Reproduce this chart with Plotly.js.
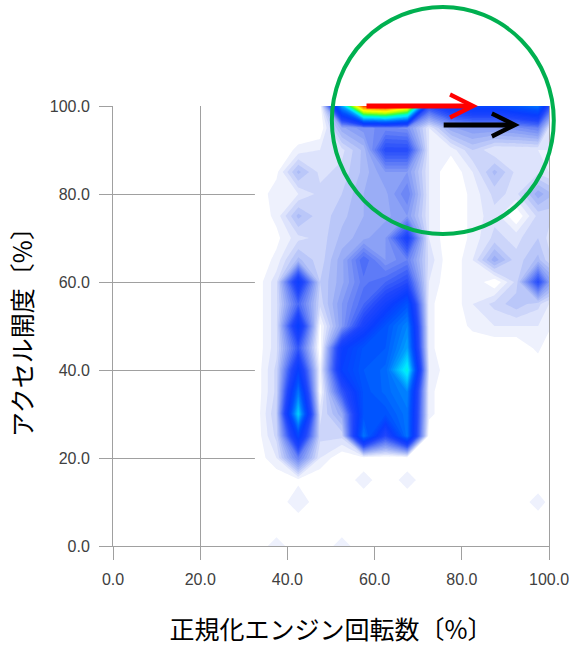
<!DOCTYPE html>
<html>
<head>
<meta charset="utf-8">
<script src="https://cdn.plot.ly/plotly-3.0.1.min.js"></script>
<style>html,body{margin:0;padding:0;background:#ffffff;}</style>
</head>
<body>
<div id="chart" style="width:569px;height:650px;"></div>
<script>
// Normalized engine speed grid (%), columns of the contour grid
const engineSpeed = [32.5, 37.5, 42.5, 47.5, 52.5, 57.5, 62.5, 67.5, 72.5, 77.5, 82.5, 87.5, 92.5, 97.5, 100];
// Accelerator opening grid (%), rows of the contour grid
const accelOpening = [0, 5, 10, 15, 20, 25, 30, 35, 40, 45, 50, 55, 60, 65, 70, 75, 80, 85, 90, 95, 100];
// Relative frequency (0..1), one row per accelOpening value
const row0   = [0, 0.025, 0, 0, 0.025, 0, 0, 0, 0, 0, 0, 0, 0, 0, 0];
const row5   = [0, 0, 0, 0, 0, 0, 0, 0, 0, 0, 0, 0, 0, 0, 0];
const row10  = [0, 0, 0.03, 0, 0, 0, 0, 0, 0, 0, 0, 0, 0, 0.025, 0.01];
const row15  = [0, 0, 0.01, 0, 0, 0.025, 0, 0.025, 0, 0, 0, 0, 0, 0, 0];
const row20  = [0, 0.03, 0.15, 0.03, 0, 0, 0, 0, 0, 0, 0, 0, 0, 0, 0];
const row25  = [0, 0.05, 0.32, 0.05, 0.05, 0.4, 0.22, 0.4, 0, 0, 0, 0, 0, 0, 0];
const row30  = [0, 0.06, 0.5, 0.04, 0.1, 0.35, 0.35, 0.4, 0.02, 0, 0, 0, 0, 0, 0];
const row35  = [0, 0.05, 0.4, 0.01, 0.2, 0.35, 0.38, 0.42, 0.02, 0, 0, 0, 0, 0, 0];
const row40  = [0, 0.05, 0.3, 0.02, 0.3, 0.36, 0.38, 0.55, 0.03, 0, 0, 0, 0, 0, 0];
const row45  = [0, 0.04, 0.2, 0, 0.28, 0.35, 0.36, 0.45, 0.02, 0, 0, 0, 0, 0.02, 0];
const row50  = [0, 0.04, 0.3, 0.01, 0.12, 0.25, 0.35, 0.42, 0.02, 0, 0.02, 0.03, 0.03, 0.03, 0.02];
const row55  = [0, 0.04, 0.18, 0.05, 0.12, 0.18, 0.26, 0.35, 0.02, 0, 0.03, 0.05, 0.07, 0.05, 0.03];
const row60  = [0, 0.04, 0.28, 0.06, 0.1, 0.16, 0.18, 0.22, 0.03, 0, 0.03, 0, 0.05, 0.22, 0.12];
const row65  = [0, 0.02, 0.08, 0.05, 0.1, 0.18, 0.12, 0.15, 0.04, 0, 0.03, 0.1, 0.05, 0.08, 0.05];
const row70  = [0, 0.01, 0.04, 0.05, 0.08, 0.1, 0.12, 0.25, 0.03, 0, 0.02, 0.05, 0.04, 0.06, 0.04];
const row75  = [0, 0.02, 0.08, 0.05, 0.07, 0.09, 0.1, 0.12, 0.03, 0, 0.02, 0.04, 0, 0.05, 0.05];
const row80  = [0, 0.025, 0.03, 0.05, 0.06, 0.09, 0.1, 0.15, 0.03, 0, 0.02, 0.05, 0.04, 0.1, 0.08];
const row85  = [0, 0.01, 0.08, 0.04, 0.05, 0.08, 0.12, 0.12, 0.03, 0, 0.03, 0.08, 0.04, 0.04, 0.03];
const row90  = [0, 0, 0.02, 0.03, 0.04, 0.08, 0.22, 0.22, 0.03, 0.02, 0.06, 0.03, 0.03, 0.03, 0.03];
const row95  = [0, 0, 0, 0, 0.1, 0.13, 0.14, 0.13, 0.03, 0.1, 0.12, 0.12, 0.13, 0.15, 0.04];
const row100 = [0, 0, 0, 0, 0.45, 0.95, 1.0, 0.85, 0.22, 0.3, 0.32, 0.32, 0.36, 0.4, 0.22];
const frequency = [row0, row5, row10, row15, row20, row25, row30, row35, row40, row45, row50,
                   row55, row60, row65, row70, row75, row80, row85, row90, row95, row100];
// Tick labels
const tickValues = [0, 20, 40, 60, 80, 100];
const tickLabels = ['0.0', '20.0', '40.0', '60.0', '80.0', '100.0'];

const colorScale = [
  [0.00, '#ffffff'], [0.01, '#e9edfd'], [0.03, '#d6ddfb'], [0.06, '#b3c1f8'],
  [0.09, '#95a9f6'], [0.12, '#7890f6'], [0.15, '#5a78f7'], [0.18, '#3b5ef9'],
  [0.22, '#1f46fc'], [0.28, '#0a3dff'], [0.34, '#0050ff'], [0.40, '#0078ff'],
  [0.46, '#00b0ff'], [0.52, '#00e8ff'], [0.58, '#00ffc0'], [0.64, '#40ff40'],
  [0.72, '#c0ff00'], [0.78, '#ffff00'], [0.86, '#ffb000'], [0.93, '#ff6000'],
  [1.00, '#ff0000']
];

const trace = {
  type: 'contour',
  x: engineSpeed,
  y: accelOpening,
  z: frequency,
  zmin: 0, zmax: 1,
  autocontour: false,
  contours: {start: 0.015, end: 1.0, size: 0.015, coloring: 'fill', showlines: false},
  line: {width: 0, smoothing: 0},
  colorscale: colorScale,
  showscale: false,
  hoverinfo: 'skip'
};

const axisCommon = {
  range: [0, 100],
  tickvals: tickValues,
  ticktext: tickLabels,
  ticks: 'outside',
  ticklen: 13,
  tickwidth: 1,
  tickcolor: '#a0a0a0',
  showgrid: true,
  gridcolor: '#a0a0a0',
  gridwidth: 1,
  zeroline: false,
  showline: true,
  linecolor: '#a0a0a0',
  linewidth: 1,
  ticklabelstandoff: 6,
  ticklabeloverflow: 'allow',
  tickfont: {family: 'Liberation Sans', size: 16, color: '#404040'}
};

const layout = {
  width: 569, height: 650,
  margin: {l: 113, r: 20, t: 106, b: 104},
  paper_bgcolor: '#ffffff', plot_bgcolor: '#ffffff',
  showlegend: false,
  xaxis: Object.assign({}, axisCommon, {
    title: {text: '正規化エンジン回転数〔%〕', standoff: 34,
            font: {family: 'Noto Sans CJK JP', size: 25, color: '#000000'}}
  }),
  yaxis: Object.assign({}, axisCommon, {
    mirror: true,
    title: {text: 'アクセル開度〔%〕', standoff: 10,
            font: {family: 'Noto Sans CJK JP', size: 25, color: '#000000'}}
  }),
  shapes: [{
    type: 'circle', xref: 'paper', yref: 'paper',
    x0: 0.502, x1: 1.011, y0: 0.709, y1: 1.225,
    line: {color: '#00b050', width: 4}, layer: 'above'
  }],
  annotations: [
    {x: 83.7, y: 100, ax: 57.8, ay: 100, axref: 'x', ayref: 'y', xref: 'x', yref: 'y',
     text: '', showarrow: true, arrowhead: 5, arrowsize: 0.9, arrowwidth: 5, arrowcolor: '#ff0000'},
    {x: 93.3, y: 95.7, ax: 75.5, ay: 95.7, axref: 'x', ayref: 'y', xref: 'x', yref: 'y',
     text: '', showarrow: true, arrowhead: 5, arrowsize: 0.9, arrowwidth: 5, arrowcolor: '#000000'}
  ]
};

Plotly.newPlot('chart', [trace], layout, {displayModeBar: false, staticPlot: true});
</script>
</body>
</html>
